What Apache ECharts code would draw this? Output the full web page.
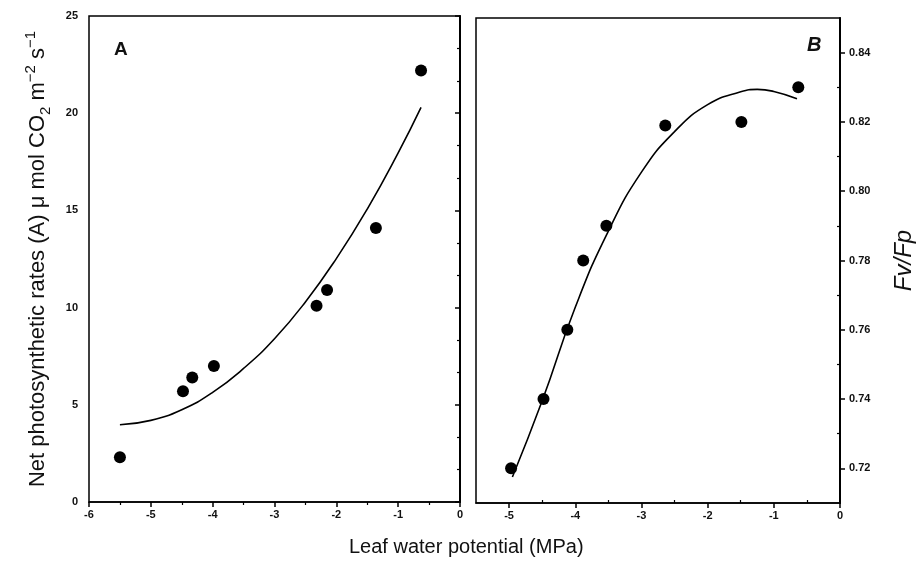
<!DOCTYPE html>
<html>
<head>
<meta charset="utf-8">
<script src="https://cdn.jsdelivr.net/npm/echarts@6/dist/echarts.min.js"></script>
<style>html,body{margin:0;padding:0;background:#fff}#c{width:917px;height:568px}</style>
</head>
<body>
<div id="c"></div>
<script>
// Panel A: net photosynthetic rate vs leaf water potential
const leftX = [-5.5, -4.48, -4.33, -3.98, -2.32, -2.15, -1.36, -0.63];
const leftY = [2.3, 5.7, 6.4, 7.0, 10.1, 10.9, 14.1, 22.2];
const leftFitX = [-5.5, -5.0, -4.5, -4.0, -3.5, -3.0, -2.5, -2.0, -1.5, -1.0, -0.63];
const leftFitY = [3.97, 4.20, 4.75, 5.64, 6.87, 8.40, 10.29, 12.52, 15.07, 17.96, 20.30];
// Panel B: Fv/Fp vs leaf water potential
const rightX = [-4.97, -4.48, -4.12, -3.88, -3.53, -2.64, -1.49, -0.63];
const rightY = [0.720, 0.740, 0.760, 0.780, 0.790, 0.819, 0.820, 0.830];
const rightFitX = [-4.95, -4.5, -4.0, -3.5, -3.0, -2.5, -2.0, -1.5, -1.25, -1.0, -0.65];
const rightFitY = [0.7175, 0.7395, 0.7665, 0.7885, 0.8055, 0.8172, 0.8250, 0.8287, 0.8294, 0.8288, 0.8267];
// tick values
const rightXTicks = [-5, -4, -3, -2, -1, 0];
const rightXMinor = [-4.5, -3.5, -2.5, -1.5, -0.5];
const rightYTicks = [0.72, 0.74, 0.76, 0.78, 0.80, 0.82, 0.84];
const rightYMinor = [0.73, 0.75, 0.77, 0.79, 0.81, 0.83];

const FONT = '"Liberation Sans", Arial, sans-serif';
const pair = (xs, ys) => xs.map((x, i) => [x, ys[i]]);
const tickLbl = {color: '#111', fontFamily: FONT, fontSize: 11, fontWeight: 'bold'};

const chart = echarts.init(document.getElementById('c'), null, {renderer: 'canvas'});
chart.setOption({
  animation: false,
  backgroundColor: '#fff',
  grid: [
    {left: 89, top: 16, width: 371, height: 486, show: true, borderColor: '#000', borderWidth: 1.5, backgroundColor: 'transparent'},
    {left: 476, top: 18, width: 367, height: 485, show: true, borderColor: '#000', borderWidth: 1.5, backgroundColor: 'transparent'}
  ],
  xAxis: [
    {type: 'value', gridIndex: 0, min: -6, max: 0, interval: 1,
     axisLine: {lineStyle: {color: '#000', width: 1.5}}, splitLine: {show: false},
     axisTick: {length: 5, lineStyle: {color: '#000', width: 1.5}},
     minorTick: {show: true, splitNumber: 2, length: 3, lineStyle: {color: '#000', width: 1.2}},
     axisLabel: Object.assign({margin: 7}, tickLbl)},
    {type: 'value', gridIndex: 1, min: -5.5, max: 0,
     axisLine: {lineStyle: {color: '#000', width: 1.5}}, splitLine: {show: false},
     axisTick: {length: 5, customValues: rightXTicks, lineStyle: {color: '#000', width: 1.5}},
     axisLabel: Object.assign({margin: 7, customValues: rightXTicks}, tickLbl)},
    {type: 'value', gridIndex: 1, min: -5.5, max: 0, position: 'bottom',
     axisLine: {show: false}, splitLine: {show: false},
     axisTick: {length: 3, inside: true, customValues: rightXMinor, lineStyle: {color: '#000', width: 1.2}},
     axisLabel: {show: false, customValues: rightXMinor}}
  ],
  yAxis: [
    {type: 'value', gridIndex: 0, min: 0, max: 25, interval: 5,
     axisLine: {show: true, lineStyle: {color: '#000', width: 2}}, splitLine: {show: false},
     axisTick: {show: true, length: 5, lineStyle: {color: '#000', width: 1.5}},
     minorTick: {show: true, splitNumber: 3, length: 3, lineStyle: {color: '#000', width: 1.2}},
     axisLabel: Object.assign({margin: 11}, tickLbl),
     name: '{t|Net photosynthetic rates (A) μ mol CO}{sub|2}{t| m}{sup|−2}{t| s}{sup|−1}',
     nameLocation: 'middle', nameRotate: 90, nameGap: 36,
     nameTextStyle: {
       color: '#111', fontFamily: FONT,
       rich: {
         t: {fontSize: 22, fontFamily: FONT, color: '#111', lineHeight: 30, verticalAlign: 'middle'},
         sub: {fontSize: 15, fontFamily: FONT, color: '#111', lineHeight: 30, verticalAlign: 'bottom'},
         sup: {fontSize: 15, fontFamily: FONT, color: '#111', lineHeight: 30, verticalAlign: 'top'}
       }
     }},
    {type: 'value', gridIndex: 1, min: 0.71, max: 0.85, position: 'right',
     axisLine: {show: true, lineStyle: {color: '#000', width: 2}}, splitLine: {show: false},
     axisTick: {show: true, length: 5, customValues: rightYTicks, lineStyle: {color: '#000', width: 1.5}},
     axisLabel: Object.assign({margin: 9, customValues: rightYTicks, formatter: v => v.toFixed(2)}, tickLbl),
     name: 'Fv/Fp', nameLocation: 'middle', nameRotate: 90, nameGap: 52,
     nameTextStyle: {color: '#111', fontFamily: FONT, fontSize: 24, fontStyle: 'italic'}},
    {type: 'value', gridIndex: 1, min: 0.71, max: 0.85, position: 'right',
     axisLine: {show: false}, splitLine: {show: false},
     axisTick: {show: true, length: 3, inside: true, customValues: rightYMinor, lineStyle: {color: '#000', width: 1.2}},
     axisLabel: {show: false, customValues: rightYMinor}}
  ],
  graphic: [
    {type: 'text', left: 114, top: 40, style: {text: 'A', fill: '#111', font: 'bold 19px ' + FONT}},
    {type: 'text', left: 807, top: 35, style: {text: 'B', fill: '#111', font: 'italic bold 20px ' + FONT}},
    {type: 'text', left: 349, top: 537, style: {text: 'Leaf water potential (MPa)', fill: '#111', font: '20px ' + FONT}}
  ],
  series: [
    {type: 'line', xAxisIndex: 0, yAxisIndex: 0, data: pair(leftFitX, leftFitY), smooth: true, showSymbol: false,
     lineStyle: {color: '#000', width: 1.6}, silent: true},
    {type: 'scatter', xAxisIndex: 0, yAxisIndex: 0, data: pair(leftX, leftY), symbol: 'circle', symbolSize: 12,
     itemStyle: {color: '#000', opacity: 1}},
    {type: 'line', xAxisIndex: 1, yAxisIndex: 1, data: pair(rightFitX, rightFitY), smooth: true, showSymbol: false,
     lineStyle: {color: '#000', width: 1.6}, silent: true},
    {type: 'scatter', xAxisIndex: 1, yAxisIndex: 1, data: pair(rightX, rightY), symbol: 'circle', symbolSize: 12,
     itemStyle: {color: '#000', opacity: 1}}
  ]
});
</script>
</body>
</html>
